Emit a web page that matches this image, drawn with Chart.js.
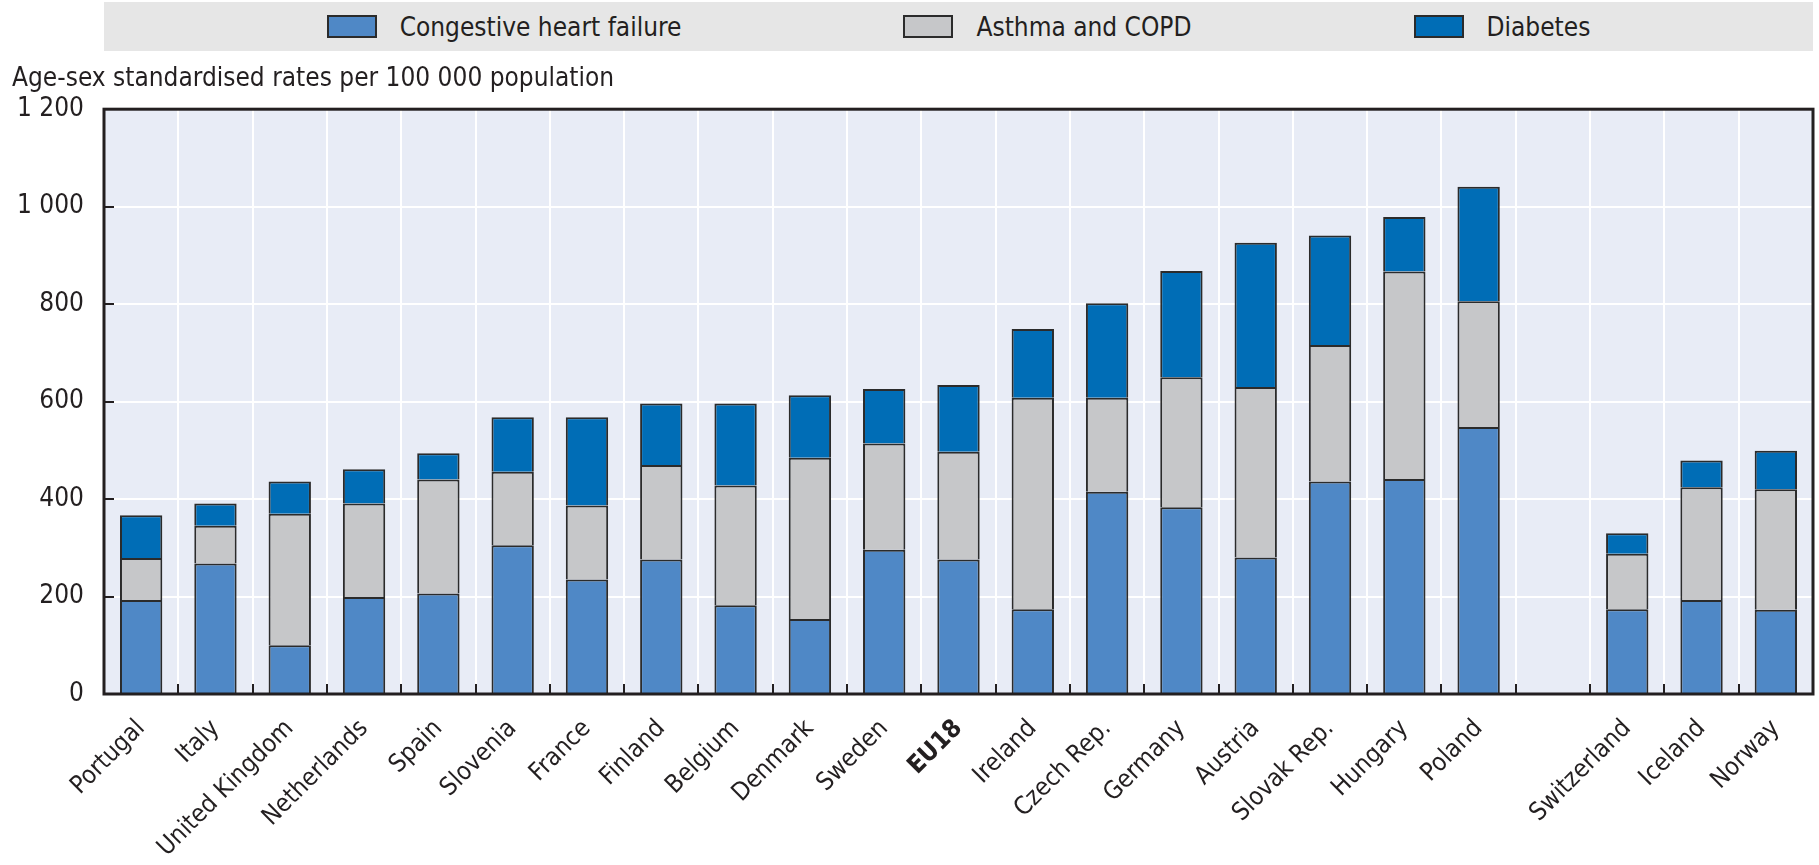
<!DOCTYPE html>
<html>
<head>
<meta charset="utf-8">
<script src="https://cdn.jsdelivr.net/npm/chart.js@4.4.0/dist/chart.umd.min.js"></script>
<style>
  body { margin: 0; background: #fff; }
  #wrap { position: relative; width: 1819px; height: 865px; }
  #legend {
    position: absolute; left: 104px; top: 2px; width: 1709px; height: 49px;
    background: #e6e6e6; display: flex; justify-content: center; align-items: center; gap: 222px;
    font-family: "Liberation Sans Narrow", "Arial Narrow", "DejaVu Sans Condensed", sans-serif;
    font-size: 26px; color: #231f20;
  }
  .item { display: flex; align-items: center; }
  .swatch { width: 46px; height: 19px; border: 2px solid #2b2b2b; margin-right: 23px; }
</style>
</head>
<body>
<div id="wrap">
  <canvas id="myChart"></canvas>
  <div id="legend"></div>
</div>
<script>
const countries = ['Portugal', 'Italy', 'United Kingdom', 'Netherlands', 'Spain', 'Slovenia', 'France', 'Finland',
  'Belgium', 'Denmark', 'Sweden', 'EU18', 'Ireland', 'Czech Rep.', 'Germany', 'Austria', 'Slovak Rep.',
  'Hungary', 'Poland', '', 'Switzerland', 'Iceland', 'Norway'];
const heartFailure = [193, 268, 100, 199, 206, 305, 235, 276, 182, 154, 296, 276, 174, 415, 383, 280, 436, 441, 548, null, 174, 193, 173];
const asthmaCopd = [86, 77, 270, 192, 234, 151, 152, 194, 246, 331, 218, 221, 434, 193, 267, 350, 280, 426, 258, null, 114, 231, 247];
const diabetes = [88, 46, 66, 70, 54, 112, 181, 126, 168, 128, 112, 137, 141, 194, 218, 296, 225, 112, 235, null, 42, 55, 79];
const yTicks = [0, 200, 400, 600, 800, 1000, 1200];

const fontFamily = '"Liberation Sans Narrow", "Arial Narrow", "DejaVu Sans Condensed", sans-serif';
const textColor = '#231f20';

// plot background, frame and the little inward tick marks
const framePlugin = {
  id: 'frame',
  beforeDraw(chart) {
    const { ctx, chartArea: a } = chart;
    ctx.save();
    ctx.fillStyle = '#e8ecf6';
    ctx.fillRect(a.left, a.top, a.right - a.left, a.bottom - a.top);
    ctx.restore();
  },
  afterDatasetsDraw(chart) {
    const { ctx, chartArea: a, scales } = chart;
    ctx.save();
    ctx.strokeStyle = '#231f20';
    ctx.lineWidth = 2;
    const step = scales.x.getPixelForValue(1) - scales.x.getPixelForValue(0);
    for (let i = 1; i < countries.length; i++) {
      const x = Math.round(scales.x.getPixelForValue(i) - step / 2);
      ctx.beginPath();
      ctx.moveTo(x, a.bottom);
      ctx.lineTo(x, a.bottom - 10);
      ctx.stroke();
    }
    yTicks.slice(1, -1).forEach(v => {
      const y = Math.round(scales.y.getPixelForValue(v));
      ctx.beginPath();
      ctx.moveTo(a.left, y);
      ctx.lineTo(a.left + 10, y);
      ctx.stroke();
    });
    ctx.lineWidth = 3;
    ctx.strokeRect(a.left, a.top, a.right - a.left, a.bottom - a.top);
    ctx.restore();
  }
};

// bottom edge skipped so stacked segments share one dividing line
const barStyle = { borderColor: '#2b2b2b', borderWidth: 2, borderSkipped: 'start', barPercentage: 0.57, categoryPercentage: 1 };

const ctx = document.getElementById('myChart').getContext('2d');
const myChart = new Chart(ctx, {
  type: 'bar',
  data: {
    labels: countries,
    datasets: [
      { label: 'Congestive heart failure', data: heartFailure, backgroundColor: '#4f88c6', ...barStyle },
      { label: 'Asthma and COPD', data: asthmaCopd, backgroundColor: '#c6c7c9', ...barStyle },
      { label: 'Diabetes', data: diabetes, backgroundColor: '#006db6', ...barStyle }
    ]
  },
  options: {
    responsive: true,
    maintainAspectRatio: false,
    animation: false,
    layout: { padding: { top: 64, left: 12, right: 6, bottom: 0 } },
    plugins: {
      legend: { display: false },
      tooltip: { enabled: false },
      title: {
        display: true,
        text: 'Age-sex standardised rates per 100 000 population',
        align: 'start',
        color: textColor,
        font: { family: fontFamily, size: 26, weight: 'normal' },
        padding: { top: 0, bottom: 14 }
      }
    },
    scales: {
      x: {
        stacked: true,
        grid: { color: '#ffffff', lineWidth: 2, drawTicks: false },
        border: { display: false },
        ticks: {
          color: textColor,
          minRotation: 45,
          maxRotation: 45,
          padding: 20,
          autoSkip: false,
          font: (c) => ({ family: fontFamily, size: 25, weight: countries[c.index] === 'EU18' ? 'bold' : 'normal' })
        },
        afterFit(scale) { scale.height = 171; }
      },
      y: {
        stacked: true,
        min: 0,
        max: 1200,
        afterBuildTicks(scale) { scale.ticks = yTicks.map(v => ({ value: v })); },
        grid: { color: '#ffffff', lineWidth: 2, drawTicks: false },
        border: { display: false },
        ticks: {
          color: textColor,
          padding: 20,
          font: { family: fontFamily, size: 26 },
          callback: v => String(v).replace(/\B(?=(\d{3})+(?!\d))/g, ' ')
        },
        afterFit(scale) { scale.width = 92; }
      }
    }
  },
  plugins: [framePlugin]
});

// html legend built from the datasets
const legendEl = document.getElementById('legend');
myChart.data.datasets.forEach(ds => {
  const item = document.createElement('div');
  item.className = 'item';
  item.innerHTML = '<span class="swatch" style="background:' + ds.backgroundColor + '"></span><span>' + ds.label + '</span>';
  legendEl.appendChild(item);
});
</script>
</body>
</html>
